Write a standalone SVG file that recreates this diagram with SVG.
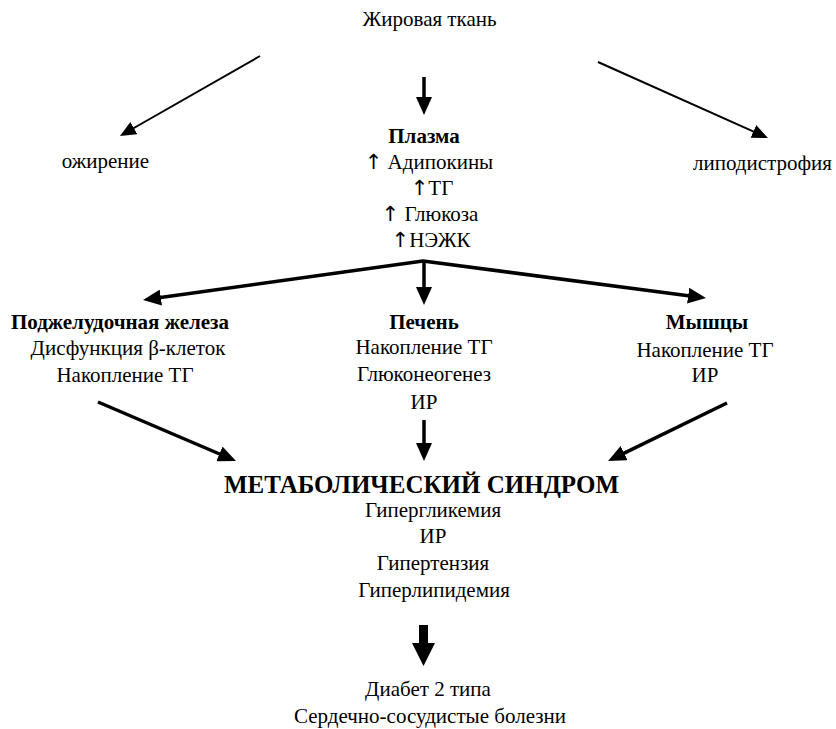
<svg xmlns="http://www.w3.org/2000/svg" width="836" height="729" viewBox="0 0 836 729" font-family="'Liberation Serif', 'DejaVu Serif', serif">
<style>
text{font-family:"Liberation Serif","DejaVu Serif",serif;font-size:21px;fill:#000;text-anchor:middle}
.b{font-weight:bold}
.big{font-size:25px;font-weight:bold}
.ar{font-family:"DejaVu Sans",sans-serif;fill:#000}
.thin{stroke:#000;stroke-width:2;fill:none}
.thick{stroke:#000;stroke-width:3.5;fill:none;stroke-linejoin:round}
</style>
<defs>
<marker id="mt" markerUnits="userSpaceOnUse" markerWidth="16" markerHeight="14" refX="4" refY="7" orient="auto" viewBox="0 0 16 14"><path d="M0,0 L16,7 L0,14 z" fill="#000"/></marker>
<marker id="mk" markerUnits="userSpaceOnUse" markerWidth="18" markerHeight="16" refX="4" refY="8" orient="auto-start-reverse" viewBox="0 0 18 16"><path d="M0,0 L18,8 L0,16 z" fill="#000"/></marker>
</defs>
<rect width="836" height="729" fill="#fff"/>
<g id="connectors">
<line class="thin" x1="260" y1="56" x2="130.4" y2="130" marker-end="url(#mt)"/>
<line class="thin" x1="598" y1="62" x2="757" y2="133.1" marker-end="url(#mt)"/>
<line class="thick" x1="424" y1="77" x2="424" y2="101" marker-end="url(#mk)"/>
<polyline class="thick" points="692.1,296.2 423,261 156.9,298.1" marker-start="url(#mk)" marker-end="url(#mk)"/>
<line class="thick" x1="424" y1="261" x2="424" y2="291" marker-end="url(#mk)"/>
<line class="thick" x1="424" y1="420" x2="424" y2="447" marker-end="url(#mk)"/>
<line class="thick" x1="98" y1="402" x2="223.1" y2="455.5" marker-end="url(#mk)"/>
<line class="thick" x1="727" y1="403" x2="620.6" y2="454.9" marker-end="url(#mk)"/>
<polygon points="419,625 428,625 428,643 435,643 423.5,666 412,643 419,643" fill="#000"/>
</g>
<g id="adipose"><text x="429.5" y="26">Жировая ткань</text></g>
<g id="obesity"><text x="105.5" y="168">ожирение</text></g>
<g id="lipodystrophy"><text x="762.5" y="170">липодистрофия</text></g>
<g id="plasma">
<text class="b" x="424" y="143">Плазма</text>
<text x="429" y="169"><tspan class="ar">↑</tspan> Адипокины</text>
<text x="432" y="195"><tspan class="ar">↑</tspan>ТГ</text>
<text x="430" y="221"><tspan class="ar">↑</tspan> Глюкоза</text>
<text x="431" y="247"><tspan class="ar">↑</tspan>НЭЖК</text>
</g>
<g id="pancreas">
<text class="b" x="120" y="329">Поджелудочная железа</text>
<text x="128" y="355">Дисфункция β-клеток</text>
<text x="125" y="382">Накопление ТГ</text>
</g>
<g id="liver">
<text class="b" x="424" y="329">Печень</text>
<text x="424" y="354">Накопление ТГ</text>
<text x="424" y="381">Глюконеогенез</text>
<text x="424" y="409">ИР</text>
</g>
<g id="muscle">
<text class="b" x="707" y="329">Мышцы</text>
<text x="705" y="357">Накопление ТГ</text>
<text x="705" y="382">ИР</text>
</g>
<g id="metsyn">
<text class="big" x="421.5" y="493">МЕТАБОЛИЧЕСКИЙ СИНДРОМ</text>
<text x="433" y="517">Гипергликемия</text>
<text x="433" y="543">ИР</text>
<text x="433" y="570">Гипертензия</text>
<text x="434" y="597">Гиперлипидемия</text>
</g>
<g id="outcomes">
<text x="428" y="696">Диабет 2 типа</text>
<text x="430" y="723">Сердечно-сосудистые болезни</text>
</g>
</svg>
